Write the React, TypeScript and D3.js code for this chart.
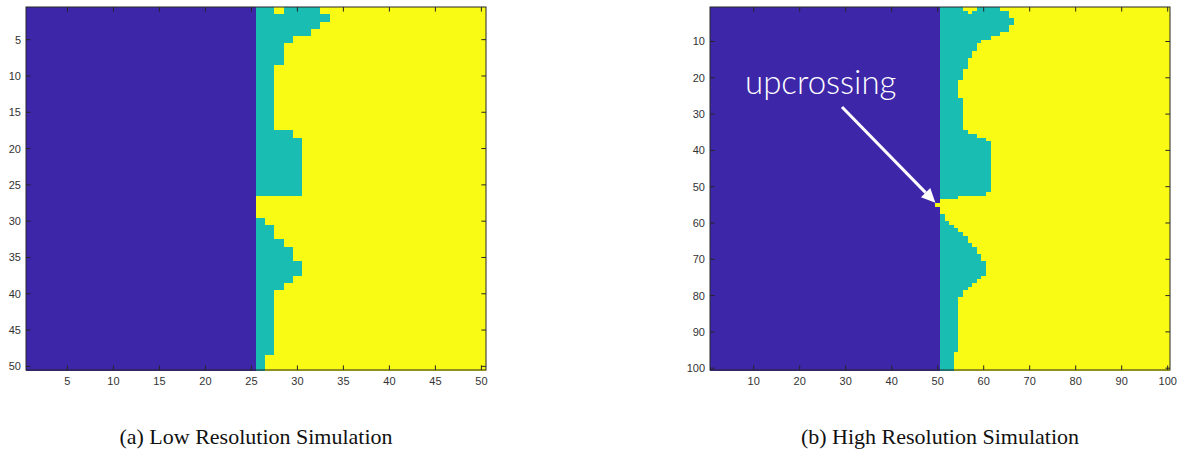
import React from "react";
import * as d3 from "d3";

// Phase field snapshots: column index of the solid front and, per row, the last
// column that is still in the intermediate (mushy) state.
const lowGridSize = 50;
const lowFrontCol = 25;
const lowTealEnd = [
  32, 33, 32, 31, 29, 28, 28, 28, 27, 27,
  27, 27, 27, 27, 27, 27, 27, 29, 30, 30,
  30, 30, 30, 30, 30, 30, 25, 25, 25, 26,
  27, 27, 28, 29, 29, 30, 30, 29, 28, 27,
  27, 27, 27, 27, 27, 27, 27, 27, 26, 26,
];
// [row, col] cells that are liquid inside the mushy band
const lowLiquidCells: [number, number][] = [[1, 28]];

const highGridSize = 100;
const highFrontCol = 50;
const highTealEnd = [
  63, 65, 65, 66, 66, 65, 65, 63, 61, 59,
  58, 58, 57, 57, 56, 56, 56, 55, 55, 55,
  54, 54, 54, 54, 54, 55, 55, 55, 55, 55,
  55, 55, 55, 55, 56, 58, 60, 61, 61, 61,
  61, 61, 61, 61, 61, 61, 61, 61, 61, 61,
  61, 60, 54, 50, 50, 50, 50, 51, 51, 52,
  53, 54, 55, 56, 56, 57, 58, 58, 59, 59,
  60, 60, 60, 60, 59, 58, 57, 56, 55, 55,
  54, 54, 54, 54, 54, 54, 54, 54, 54, 54,
  54, 54, 54, 54, 54, 53, 53, 53, 53, 53,
];
const highLiquidCells: [number, number][] = [
  [1, 56], [1, 57], [1, 58], [2, 57],
  [55, 50],
];

const lowTicks = [5, 10, 15, 20, 25, 30, 35, 40, 45, 50];
const highTicks = [10, 20, 30, 40, 50, 60, 70, 80, 90, 100];

const captions = ["(a) Low Resolution Simulation", "(b) High Resolution Simulation"];
const annotationText = "upcrossing";

const phaseColor = d3.scaleOrdinal<number, string>()
  .domain([0, 1, 2])
  .range(["#3e26a8", "#1abdb2", "#f9fb15"]);

type Panel = {
  n: number;
  front: number;
  tealEnd: number[];
  liquid: [number, number][];
  ticks: number[];
  left: number;
  right: number;
  top: number;
  bottom: number;
  caption: string;
};

const panels: Panel[] = [
  { n: lowGridSize, front: lowFrontCol, tealEnd: lowTealEnd, liquid: lowLiquidCells, ticks: lowTicks,
    left: 26, right: 486, top: 7, bottom: 370, caption: captions[0] },
  { n: highGridSize, front: highFrontCol, tealEnd: highTealEnd, liquid: highLiquidCells, ticks: highTicks,
    left: 710, right: 1170, top: 7, bottom: 370, caption: captions[1] },
];

function buildGrid(p: Panel): number[][] {
  const grid: number[][] = [];
  for (let r = 1; r <= p.n; r++) {
    const row: number[] = [];
    for (let c = 1; c <= p.n; c++) {
      row.push(c <= p.front ? 0 : c <= p.tealEnd[r - 1] ? 1 : 2);
    }
    grid.push(row);
  }
  p.liquid.forEach(([r, c]) => { grid[r - 1][c - 1] = 2; });
  return grid;
}

function PhasePanel({ p }: { p: Panel }) {
  const x = d3.scaleLinear().domain([0.5, p.n + 0.5]).range([p.left, p.right]);
  const y = d3.scaleLinear().domain([0.5, p.n + 0.5]).range([p.top, p.bottom]);
  const grid = buildGrid(p);
  const runs: { r: number; c0: number; c1: number; v: number }[] = [];
  grid.forEach((row, ri) => {
    let start = 0;
    for (let ci = 1; ci <= row.length; ci++) {
      if (ci === row.length || row[ci] !== row[start]) {
        runs.push({ r: ri + 1, c0: start + 1, c1: ci, v: row[start] });
        start = ci;
      }
    }
  });
  const tickLen = 4.6;
  const axisColor = "#262626";
  const cx = (p.left + p.right) / 2;
  return (
    <g>
      <g shapeRendering="crispEdges">
        {runs.map((d, i) => (
          <rect
            key={i}
            x={x(d.c0 - 0.5)}
            y={y(d.r - 0.5)}
            width={x(d.c1 + 0.5) - x(d.c0 - 0.5)}
            height={y(d.r + 0.5) - y(d.r - 0.5) + 0.5}
            fill={phaseColor(d.v)}
          />
        ))}
      </g>
      <rect x={p.left} y={p.top} width={p.right - p.left} height={p.bottom - p.top}
        fill="none" stroke={axisColor} strokeWidth={1} />
      {p.ticks.map((t) => (
        <g key={"x" + t}>
          <line x1={x(t)} x2={x(t)} y1={p.bottom} y2={p.bottom - tickLen} stroke={axisColor} />
          <line x1={x(t)} x2={x(t)} y1={p.top} y2={p.top + tickLen} stroke={axisColor} />
          <text x={x(t)} y={p.bottom + 15} textAnchor="middle" fontSize={11}
            fontFamily="'Liberation Sans', Arial, sans-serif" fill="#333">{t}</text>
        </g>
      ))}
      {p.ticks.map((t) => (
        <g key={"y" + t}>
          <line x1={p.left} x2={p.left + tickLen} y1={y(t)} y2={y(t)} stroke={axisColor} />
          <line x1={p.right} x2={p.right - tickLen} y1={y(t)} y2={y(t)} stroke={axisColor} />
          <text x={p.left - 5} y={y(t) + 4} textAnchor="end" fontSize={11}
            fontFamily="'Liberation Sans', Arial, sans-serif" fill="#333">{t}</text>
        </g>
      ))}
      <text x={cx} y={444} textAnchor="middle" fontSize={22}
        fontFamily="'Liberation Serif', 'Times New Roman', serif" fill="#111">{p.caption}</text>
    </g>
  );
}

export default function App() {
  const hp = panels[1];
  const hx = d3.scaleLinear().domain([0.5, hp.n + 0.5]).range([hp.left, hp.right]);
  const hy = d3.scaleLinear().domain([0.5, hp.n + 0.5]).range([hp.top, hp.bottom]);
  const [tr, tc] = highLiquidCells[highLiquidCells.length - 1];
  const tipX = hx(tc - 0.5);
  const tipY = hy(tr - 0.6);
  const startX = 842;
  const startY = 107;
  const ang = Math.atan2(tipY - startY, tipX - startX);
  const headLen = 14;
  const headW = 6.5;
  const bx = tipX - headLen * Math.cos(ang);
  const by = tipY - headLen * Math.sin(ang);
  const nx = -Math.sin(ang);
  const ny = Math.cos(ang);
  const head = `${tipX},${tipY} ${bx + nx * headW},${by + ny * headW} ${bx - nx * headW},${by - ny * headW}`;
  return (
    <svg width={1177} height={450} style={{ position: "absolute", left: 0, top: 0, background: "#fff" }}>
      {panels.map((p, i) => <PhasePanel key={i} p={p} />)}
      <line x1={startX} y1={startY} x2={bx} y2={by} stroke="#fff" strokeWidth={3} />
      <polygon points={head} fill="#fff" />
      <text x={745} y={94} fontSize={33} fontWeight={300}
        fontFamily="Lato, 'Open Sans', sans-serif" fill="#fff">{annotationText}</text>
    </svg>
  );
}
